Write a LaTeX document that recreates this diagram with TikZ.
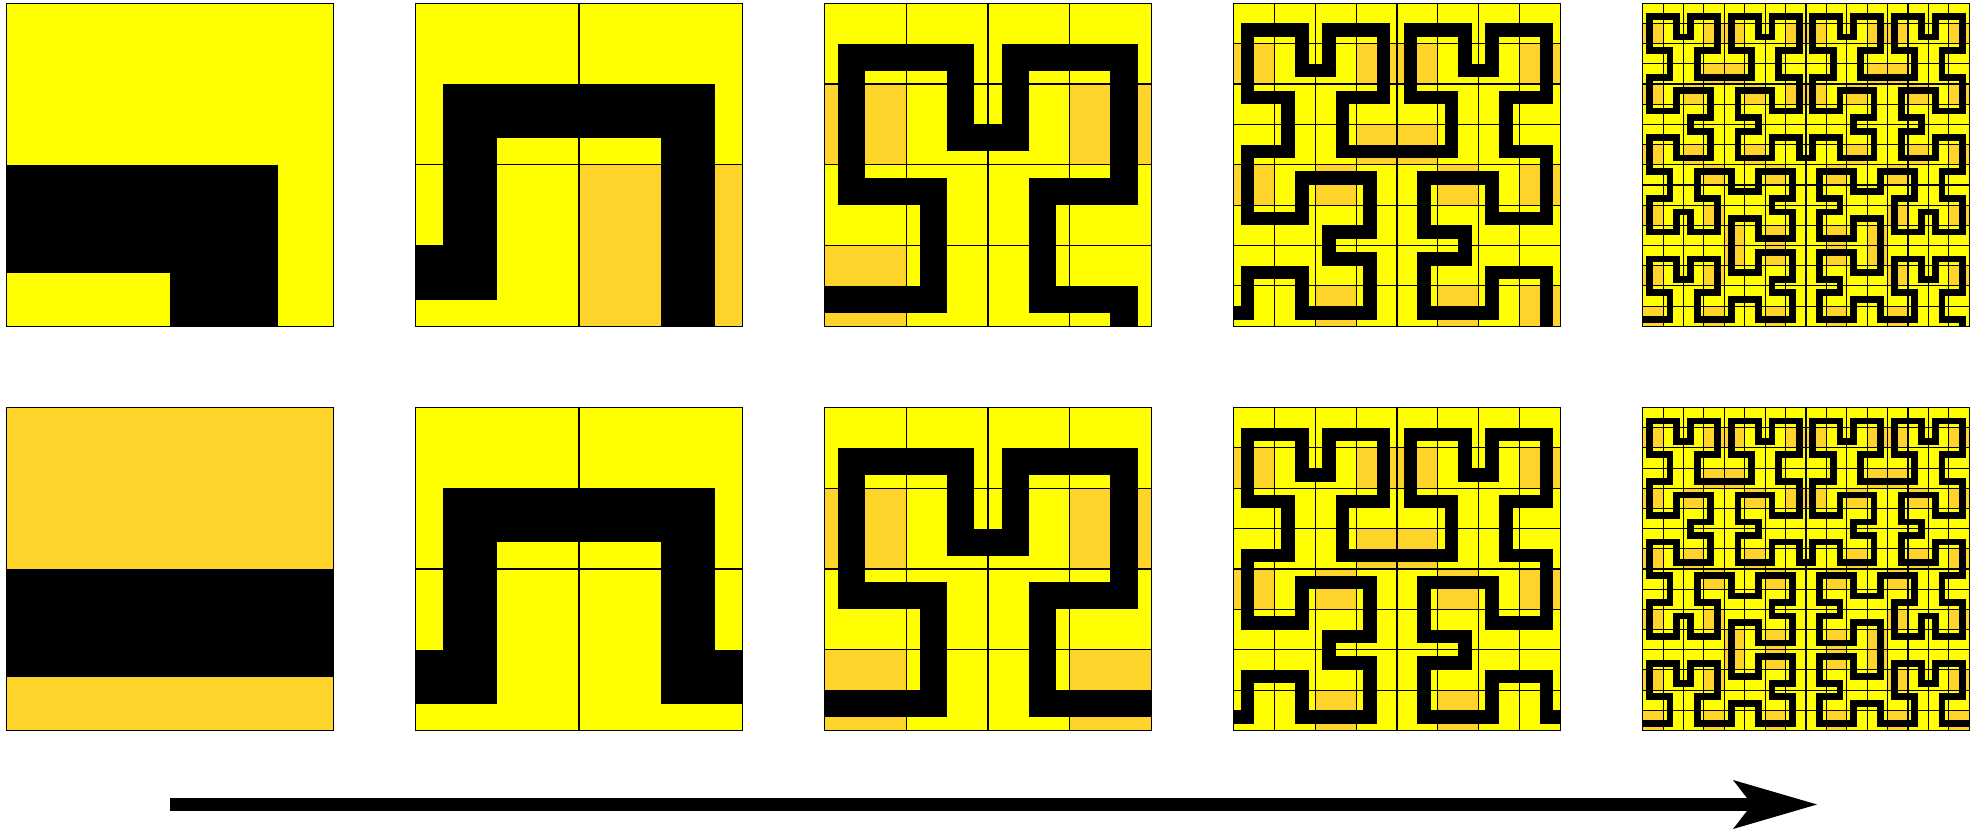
\documentclass[tikz,border=0pt]{standalone}
\definecolor{hyel}{RGB}{255,255,0}
\definecolor{horg}{RGB}{255,212,42}
\newif\ifhdraw
\newdimen\hlw
\tikzset{
  hcurve/.style={line width=\hlw, line cap=rect, line join=miter, black},
  hgrid/.style={line width=1.1pt, black},
  hborder/.style={line width=1.3pt, black},
  qBL/.style={shift={(0,0.5)},scale=0.5,rotate=-90},
  qTL/.style={shift={(0.5,0.5)},scale=0.5,xscale=-1},
  qTR/.style={shift={(0.5,0.5)},scale=0.5},
  qBR/.style={shift={(1,0.5)},scale=0.5,xscale=-1,rotate=-90},
  shaft/.style={line width=12.4pt, black},
}
\newcommand\hleafT{\ifhdraw\draw[hcurve] (0,1/3) -- (2/3,1/3) -- (2/3,0);\else\fill[hyel] (0,0) -- (1,0) -- (1,1) -- (0,1) -- cycle;\fi}
\newcommand\hleafB{\ifhdraw\draw[hcurve] (0,1/3) -- (1,1/3);\else\fill[horg] (0,0) -- (1,0) -- (1,1) -- (0,1) -- cycle;\fi}
\newcommand\hquadsT[1]{%
  \begin{scope}[qBL]\hT{#1}\end{scope}%
  \begin{scope}[qTL]\hT{#1}\end{scope}%
  \begin{scope}[qTR]\hT{#1}\end{scope}}
\newcommand\hT[1]{\ifnum#1=1 \hleafT\else\hquadsT{\the\numexpr#1-1\relax}\begin{scope}[qBR]\hB{\the\numexpr#1-1\relax}\end{scope}\fi}
\newcommand\hB[1]{\ifnum#1=1 \hleafB\else\hquadsT{\the\numexpr#1-1\relax}\begin{scope}[qBR]\hT{\the\numexpr#1-1\relax}\end{scope}\fi}
\newcommand\hpanel[4]{%
  \begin{scope}[shift={(#1,#2)},xscale=326.5,yscale=323]
    \begin{scope}
      \pgfmathsetlength\hlw{324.7pt/(3*2^(#3-1))}%
      \clip (0,0) rectangle (1,1);
      \hdrawfalse\csname h#4\endcsname{#3}%
      \hdrawtrue\csname h#4\endcsname{#3}%
      \pgfmathtruncatemacro\hN{2^(#3-1)}%
      \pgfmathtruncatemacro\hNm{\hN-1}%
      \ifnum\hN>1
        \foreach \i in {1,...,\hNm}{%
          \draw[hgrid] (\i/\hN,0) -- (\i/\hN,1);
          \draw[hgrid] (0,\i/\hN) -- (1,\i/\hN);
        }%
      \fi
    \end{scope}
    \draw[hborder] (0,0) rectangle (1,1);
  \end{scope}}
\begin{document}
\begin{tikzpicture}[x=1pt,y=1pt]
\useasboundingbox (0,0) rectangle (1983,830);
% top row
\hpanel{6.7}{503.7}{1}{T}
\hpanel{415.7}{503.7}{2}{T}
\hpanel{824.7}{503.7}{3}{T}
\hpanel{1233.7}{503.7}{4}{T}
\hpanel{1642.7}{503.7}{5}{T}
% bottom row
\hpanel{6.7}{99.5}{1}{B}
\hpanel{415.7}{99.5}{2}{B}
\hpanel{824.7}{99.5}{3}{B}
\hpanel{1233.7}{99.5}{4}{B}
\hpanel{1642.7}{99.5}{5}{B}
% arrow
\coordinate (aS) at (169.5,25.5);
\coordinate (aE) at (1817,25.5);
\coordinate (aN) at (1760,25.5);
\draw[shaft] (aS) -- (aN);
\fill[black] (aE) -- ++(-84,24.5) -- ++(19,-24.5) -- ++(-19,-24.5) -- cycle;
\end{tikzpicture}
\end{document}
